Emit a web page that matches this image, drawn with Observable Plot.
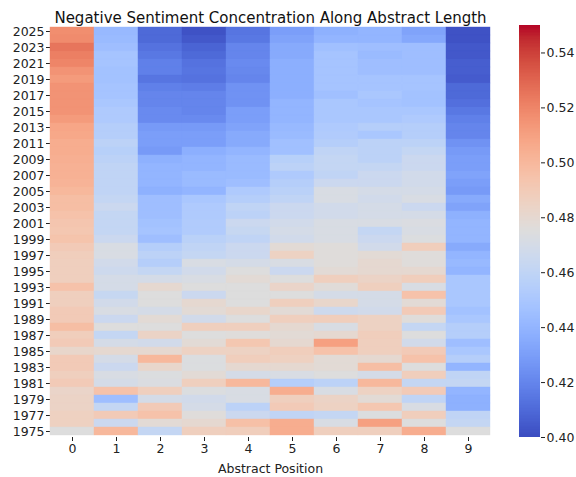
<!DOCTYPE html>
<html>
<head>
<meta charset="utf-8">
<script src="https://cdn.jsdelivr.net/npm/d3@7"></script>
<script src="https://cdn.jsdelivr.net/npm/@observablehq/plot@0.6"></script>
<style>
  html, body { margin: 0; padding: 0; background: #fff; }
  #wrap { position: relative; width: 576px; height: 477px; font-family: "DejaVu Sans", sans-serif; }
  #wrap svg { position: absolute; top: 0; overflow: visible; }
</style>
</head>
<body>
<div id="wrap"></div>
<script>
const title = "Negative Sentiment Concentration Along Abstract Length";
const xLabel = "Abstract Position";
const positions = [0, 1, 2, 3, 4, 5, 6, 7, 8, 9];
const years = [2025, 2024, 2023, 2022, 2021, 2020, 2019, 2018, 2017, 2016, 2015, 2014, 2013,
  2012, 2011, 2010, 2009, 2008, 2007, 2006, 2005, 2004, 2003, 2002, 2001, 2000,
  1999, 1998, 1997, 1996, 1995, 1994, 1993, 1992, 1991, 1990, 1989, 1988, 1987,
  1986, 1985, 1984, 1983, 1982, 1981, 1980, 1979, 1978, 1977, 1976, 1975];
const yTickYears = [2025, 2023, 2021, 2019, 2017, 2015, 2013, 2011, 2009, 2007, 2005, 2003, 2001,
  1999, 1997, 1995, 1993, 1991, 1989, 1987, 1985, 1983, 1981, 1979, 1977, 1975];
const colorTicks = [0.40, 0.42, 0.44, 0.46, 0.48, 0.50, 0.52, 0.54];
const colorDomain = [0.40, 0.55];

// values per position, from 2025 (top) down to 1975 (bottom)
const pos0 = [0.517, 0.518, 0.525, 0.522, 0.52, 0.515, 0.512, 0.515, 0.515, 0.515, 0.515, 0.512, 0.508,
  0.507, 0.505, 0.505, 0.504, 0.503, 0.503, 0.502, 0.5, 0.497, 0.497, 0.495, 0.493, 0.492,
  0.494, 0.49, 0.488, 0.487, 0.487, 0.487, 0.495, 0.487, 0.487, 0.49, 0.49, 0.497, 0.488,
  0.49, 0.482, 0.49, 0.49, 0.487, 0.49, 0.483, 0.484, 0.484, 0.486, 0.486, 0.475];
const pos1 = [0.442, 0.443, 0.445, 0.448, 0.448, 0.447, 0.447, 0.448, 0.448, 0.45, 0.452, 0.452, 0.455,
  0.455, 0.458, 0.456, 0.458, 0.46, 0.46, 0.46, 0.46, 0.462, 0.465, 0.462, 0.462, 0.462,
  0.465, 0.472, 0.472, 0.468, 0.466, 0.47, 0.47, 0.463, 0.468, 0.472, 0.465, 0.475, 0.462,
  0.47, 0.48, 0.47, 0.465, 0.472, 0.47, 0.495, 0.445, 0.462, 0.49, 0.465, 0.5];
const pos2 = [0.41, 0.41, 0.413, 0.415, 0.418, 0.418, 0.414, 0.418, 0.42, 0.42, 0.422, 0.422, 0.428,
  0.43, 0.43, 0.428, 0.438, 0.44, 0.44, 0.44, 0.438, 0.445, 0.445, 0.445, 0.447, 0.448,
  0.445, 0.455, 0.458, 0.455, 0.462, 0.47, 0.48, 0.475, 0.475, 0.47, 0.478, 0.475, 0.484,
  0.468, 0.48, 0.5, 0.482, 0.474, 0.473, 0.487, 0.47, 0.49, 0.495, 0.478, 0.462];
const pos3 = [0.402, 0.404, 0.408, 0.41, 0.413, 0.414, 0.413, 0.417, 0.42, 0.42, 0.42, 0.422, 0.428,
  0.43, 0.43, 0.437, 0.44, 0.44, 0.443, 0.443, 0.44, 0.45, 0.452, 0.452, 0.453, 0.453,
  0.457, 0.46, 0.462, 0.472, 0.468, 0.472, 0.475, 0.465, 0.48, 0.478, 0.468, 0.487, 0.475,
  0.478, 0.485, 0.474, 0.474, 0.478, 0.487, 0.474, 0.468, 0.47, 0.476, 0.48, 0.487];
const pos4 = [0.414, 0.415, 0.42, 0.42, 0.422, 0.421, 0.42, 0.425, 0.425, 0.425, 0.43, 0.43, 0.432,
  0.435, 0.435, 0.44, 0.443, 0.443, 0.443, 0.445, 0.452, 0.455, 0.46, 0.458, 0.465, 0.463,
  0.46, 0.465, 0.465, 0.47, 0.475, 0.478, 0.475, 0.475, 0.475, 0.482, 0.475, 0.487, 0.476,
  0.492, 0.485, 0.488, 0.48, 0.47, 0.5, 0.472, 0.472, 0.458, 0.465, 0.496, 0.488];
const pos5 = [0.43, 0.432, 0.435, 0.435, 0.437, 0.437, 0.437, 0.437, 0.437, 0.44, 0.44, 0.44, 0.442,
  0.443, 0.446, 0.446, 0.456, 0.458, 0.452, 0.455, 0.457, 0.46, 0.465, 0.465, 0.468, 0.47,
  0.468, 0.478, 0.485, 0.472, 0.465, 0.475, 0.483, 0.475, 0.487, 0.478, 0.487, 0.48, 0.478,
  0.48, 0.488, 0.486, 0.48, 0.472, 0.455, 0.505, 0.487, 0.49, 0.46, 0.505, 0.505];
const pos6 = [0.438, 0.44, 0.446, 0.448, 0.448, 0.448, 0.448, 0.448, 0.446, 0.45, 0.45, 0.45, 0.452,
  0.453, 0.455, 0.46, 0.462, 0.462, 0.46, 0.465, 0.472, 0.472, 0.468, 0.468, 0.472, 0.472,
  0.472, 0.476, 0.476, 0.476, 0.478, 0.487, 0.477, 0.47, 0.482, 0.466, 0.488, 0.472, 0.48,
  0.51, 0.495, 0.478, 0.478, 0.475, 0.458, 0.472, 0.484, 0.485, 0.462, 0.472, 0.487];
const pos7 = [0.44, 0.44, 0.445, 0.443, 0.445, 0.445, 0.448, 0.448, 0.45, 0.448, 0.45, 0.45, 0.455,
  0.45, 0.458, 0.458, 0.458, 0.462, 0.465, 0.465, 0.47, 0.468, 0.47, 0.47, 0.472, 0.462,
  0.465, 0.468, 0.478, 0.48, 0.48, 0.484, 0.487, 0.47, 0.47, 0.468, 0.485, 0.485, 0.488,
  0.487, 0.487, 0.48, 0.497, 0.47, 0.5, 0.485, 0.478, 0.492, 0.474, 0.51, 0.487];
const pos8 = [0.432, 0.434, 0.445, 0.445, 0.445, 0.445, 0.448, 0.448, 0.447, 0.447, 0.45, 0.452, 0.455,
  0.455, 0.458, 0.462, 0.465, 0.465, 0.468, 0.468, 0.47, 0.472, 0.465, 0.47, 0.473, 0.472,
  0.474, 0.488, 0.476, 0.476, 0.48, 0.488, 0.472, 0.495, 0.478, 0.49, 0.476, 0.462, 0.475,
  0.468, 0.49, 0.495, 0.475, 0.488, 0.462, 0.49, 0.46, 0.472, 0.488, 0.475, 0.505];
const pos9 = [0.402, 0.402, 0.404, 0.404, 0.406, 0.406, 0.405, 0.41, 0.41, 0.412, 0.415, 0.418, 0.42,
  0.42, 0.425, 0.428, 0.43, 0.43, 0.432, 0.43, 0.428, 0.435, 0.432, 0.438, 0.44, 0.44,
  0.44, 0.435, 0.44, 0.442, 0.44, 0.45, 0.45, 0.45, 0.45, 0.447, 0.45, 0.455, 0.455,
  0.445, 0.45, 0.455, 0.44, 0.46, 0.462, 0.44, 0.438, 0.438, 0.46, 0.462, 0.475];

// matplotlib "coolwarm" (Moreland) control colors
const coolwarm = [
  [59,76,192],[68,90,204],[77,104,215],[87,117,225],[98,130,234],[108,142,241],[119,154,247],
  [130,165,251],[141,176,254],[152,185,255],[163,194,255],[174,201,253],[184,208,249],[194,213,244],
  [204,217,238],[213,219,230],[221,221,221],[229,216,209],[236,211,197],[241,204,185],[245,196,173],
  [247,187,160],[247,177,148],[247,166,135],[244,154,123],[241,141,111],[236,127,99],[229,112,88],
  [222,96,77],[213,80,66],[203,62,56],[192,40,47],[180,4,38]
].map(([r,g,b]) => `rgb(${r},${g},${b})`);
const coolwarmInterp = d3.piecewise(d3.interpolateRgb, coolwarm);

const columns = [pos0, pos1, pos2, pos3, pos4, pos5, pos6, pos7, pos8, pos9];
const cells = years.flatMap((year, i) => positions.map((p, j) => ({year, pos: p, value: columns[j][i]})));

const font = "DejaVu Sans, sans-serif";
const colorScale = {type: "linear", domain: colorDomain, interpolate: coolwarmInterp, clamp: true};

const main = Plot.plot({
  width: 576,
  height: 477,
  marginTop: 25,
  marginBottom: 40,
  marginLeft: 50,
  marginRight: 86,
  style: {fontFamily: font, fontSize: "12.5px", color: "#222", background: "transparent"},
  x: {type: "band", domain: positions, padding: 0, label: xLabel, labelAnchor: "center", labelArrow: "none",
      tickSize: 4, tickPadding: 3, labelOffset: 35},
  y: {type: "band", domain: years, padding: 0, ticks: yTickYears, tickFormat: d3.format("d"), tickSize: 4, tickPadding: 2, label: null},
  color: colorScale,
  marks: [
    Plot.cell(cells, {x: "pos", y: "year", fill: "value", inset: 0, stroke: "value", strokeWidth: 0.4}),
    Plot.text([title], {frameAnchor: "top", dy: -13, fontSize: 15, fill: "#111"})
  ]
});
main.style.left = "0px";

const steps = d3.range(0, 300).map(i => colorDomain[0] + (colorDomain[1] - colorDomain[0]) * i / 300);
const stepSize = (colorDomain[1] - colorDomain[0]) / 300;
const bar = Plot.plot({
  width: 57,
  height: 477,
  marginTop: 25,
  marginBottom: 40,
  marginLeft: 0,
  marginRight: 36,
  style: {fontFamily: font, fontSize: "12.5px", color: "#222", background: "transparent"},
  x: {axis: null, domain: [0, 1]},
  y: {domain: colorDomain, axis: "right", ticks: colorTicks, tickFormat: d3.format(".2f"), tickSize: 4, tickPadding: 2, label: null},
  color: colorScale,
  marks: [
    Plot.rect(steps, {x1: 0, x2: 1, y1: d => d, y2: d => d + stepSize * 1.05, fill: d => d + stepSize / 2, shapeRendering: "crispEdges"})
  ]
});
bar.style.left = "519px";

const wrap = document.getElementById("wrap");
wrap.appendChild(main);
wrap.appendChild(bar);
</script>
</body>
</html>
